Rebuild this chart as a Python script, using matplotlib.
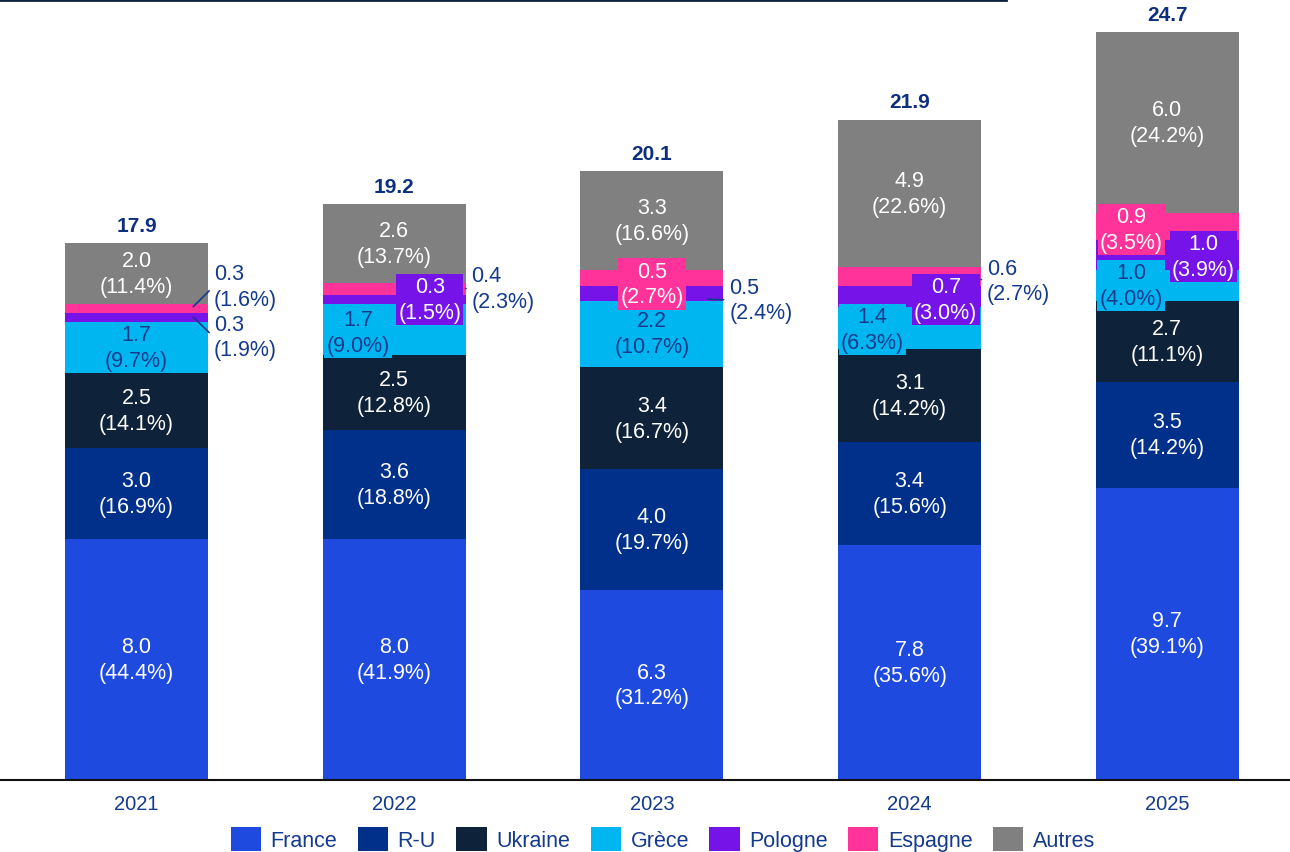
import numpy as np
import matplotlib
matplotlib.use("Agg")
import matplotlib.pyplot as plt
from matplotlib.patches import Patch
from matplotlib.lines import Line2D

plt.rcParams['font.family'] = ['Liberation Sans', 'DejaVu Sans']

years = ["2021", "2022", "2023", "2024", "2025"]
totals = [17.9, 19.2, 20.1, 21.9, 24.7]

series = ["France", "R-U", "Ukraine", "Grèce", "Pologne", "Espagne", "Autres"]
france = [8.0, 8.0, 6.3, 7.8, 9.7]
ru = [3.0, 3.6, 4.0, 3.4, 3.5]
ukraine = [2.5, 2.5, 3.4, 3.1, 2.7]
grece = [1.7, 1.7, 2.2, 1.4, 1.0]
pologne = [0.3, 0.3, 0.5, 0.7, 1.0]
espagne = [0.3, 0.4, 0.5, 0.6, 0.9]
autres = [2.0, 2.6, 3.3, 4.9, 6.0]

france_pct = [44.4, 41.9, 31.2, 35.6, 39.1]
ru_pct = [16.9, 18.8, 19.7, 15.6, 14.2]
ukraine_pct = [14.1, 12.8, 16.7, 14.2, 11.1]
grece_pct = [9.7, 9.0, 10.7, 6.3, 4.0]
pologne_pct = [1.9, 1.5, 2.4, 3.0, 3.9]
espagne_pct = [1.6, 2.3, 2.7, 2.7, 3.5]
autres_pct = [11.4, 13.7, 16.6, 22.6, 24.2]

values = [france, ru, ukraine, grece, pologne, espagne, autres]
pcts = [france_pct, ru_pct, ukraine_pct, grece_pct, pologne_pct, espagne_pct, autres_pct]

colors = ["#1F4AE0", "#00308A", "#0E2239", "#00B6F1", "#7513E8", "#FF3399", "#808080"]
text_col = ["white", "white", "white", "#143A8C", "white", "white", "white"]
navy = "#143A8C"
fs = 15.5
lsp = 1.3

# label placement tweaks: (year index, series index) -> settings
# 'box': (dx, dy) shift of a label drawn on a coloured box
# 'out': text outside the bar (text dx, text dy, line start dx, line start dy)
box_pos = {
    (1, 4): (0.138, 0.0), (1, 3): (-0.14, -0.1),
    (2, 5): (0.0, -0.2),
    (3, 4): (0.14, -0.1), (3, 3): (-0.144, -0.07),
    (4, 5): (-0.14, -0.1), (4, 4): (0.14, -0.05), (4, 3): (-0.14, 0.0),
}
out_pos = {
    (0, 5): (0.30, 0.73, 0.22, 0.05),
    (0, 4): (0.30, -0.66, 0.22, 0.0),
    (1, 5): (0.30, 0.0, 0.277, 0.0),
    (2, 4): (0.30, -0.23, 0.217, -0.2),
    (3, 5): (0.30, -0.15, 0.277, -0.1),
}

fig = plt.figure(figsize=(12.9, 8.53), dpi=100)
ax = fig.add_axes([0, 72 / 853, 1, 781 / 853])

x = np.arange(len(years))
width = 0.555
bottom = np.zeros(len(years))
for s, name in enumerate(series):
    vals = np.array(values[s])
    ax.bar(x, vals, width, bottom=bottom, color=colors[s], label=name, zorder=2)
    for i in range(len(years)):
        cy = bottom[i] + vals[i] / 2
        lab = f"{vals[i]:.1f}\n({pcts[s][i]:.1f}%)"
        if (i, s) in out_pos:
            tdx, tdy, ldx, ldy = out_pos[(i, s)]
            ax.annotate(lab, xy=(i + ldx, cy + ldy), xytext=(i + tdx, cy + tdy),
                        ha="left", va="center", fontsize=fs, color=navy, zorder=5,
                        linespacing=lsp,
                        arrowprops=dict(arrowstyle="-", color=navy, lw=1.2,
                                        shrinkA=2, shrinkB=0, relpos=(0, 0.5)))
        elif (i, s) in box_pos:
            dx, dy = box_pos[(i, s)]
            ax.text(i + dx, cy + dy, lab, ha="center", va="center", fontsize=fs,
                    color=text_col[s], zorder=4, linespacing=lsp,
                    bbox=dict(facecolor=colors[s], edgecolor="none", pad=1.5))
        else:
            ax.text(i, cy, lab, ha="center", va="center", fontsize=fs,
                    color=text_col[s], zorder=4, linespacing=lsp)
    bottom += vals

for i, t in enumerate(totals):
    ax.annotate(f"{t:.1f}", xy=(i, bottom[i]), xytext=(0, 6), textcoords="offset points",
                ha="center", va="bottom", fontsize=15, fontweight="bold", color="#0D2F80")

ax.set_xlim(-0.53, 4.476)
ax.set_ylim(0, 781 / 30.15)
ax.set_xticks(x)
ax.set_xticklabels(years, fontsize=14.5, color=navy)
ax.tick_params(axis="x", length=0, pad=10)
ax.set_yticks([])
for sp in ["top", "right", "left"]:
    ax.spines[sp].set_visible(False)
ax.spines["bottom"].set_color("#111111")
ax.spines["bottom"].set_linewidth(1.5)

handles = [Patch(facecolor=c, edgecolor="none") for c in colors]
leg = fig.legend(handles, series, loc="center", bbox_to_anchor=(0.514, 0.0155), ncol=7,
                 frameon=False, fontsize=15.5, handlelength=1.4, handleheight=1.35,
                 handletextpad=0.45, columnspacing=0.95, borderpad=0.2)
for t in leg.get_texts():
    t.set_color(navy)

fig.add_artist(Line2D([0, 1006 / 1290], [0.9985, 0.9985], color="#0E2239", lw=2))

fig.savefig("out.png", dpi=100)
